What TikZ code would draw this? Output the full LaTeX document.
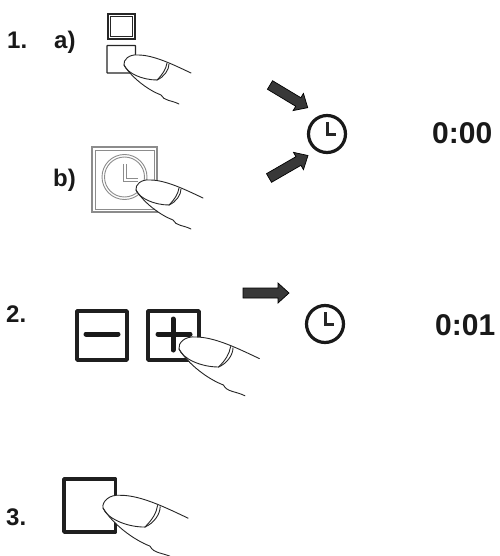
\documentclass[tikz,border=0pt]{standalone}
\usepackage{fontspec}
\setmainfont{Liberation Sans}
\tikzset{
  x=1pt,y=-1pt,
  lbl/.style={font=\fontsize{24}{24}\selectfont\bfseries,anchor=base west,inner sep=0pt,text=black!90},
  timetxt/.style={font=\fontsize{30}{30}\selectfont\bfseries,anchor=base west,inner sep=0pt,text=black!90},
  thinbox/.style={draw=black!85,line width=1.3pt,rounded corners=0.5pt},
  heavybox/.style={draw=black!88,line width=3.4pt,line join=round},
  fingerline/.style={draw=black!85,line width=0.9pt,line cap=round,line join=round},
  pics/finger/.style={code={
    \fill[white] (67,8) .. controls (50,0) and (30,-10) .. (14,-10)
      .. controls (5,-11) and (-1,-5) .. (0,0)
      .. controls (8,13) and (25,24) .. (38,30)
      -- (60,42) -- (80,20) -- cycle;
    \path[fingerline] (67,8) .. controls (50,0) and (30,-10) .. (14,-10)
      .. controls (5,-11) and (-1,-5) .. (0,0)
      .. controls (3,8) and (18,15) .. (33,15);
    \path[fingerline] (33,15) .. controls (39,9) and (42,4) .. (43,-2);
    \path[fingerline] (33,15) .. controls (40,12) and (45,5) .. (45,-1);
    \path[fingerline] (0,0) .. controls (8,13) and (24,25) .. (37,30)
      .. controls (40,36) and (47,35) .. (55,39);
  }},
  pics/blockarrow/.style={code={
    \filldraw[fill=black!78,draw=black,line width=0.7pt,line join=miter]
      (0,-5) -- (#1-11,-5) -- (#1-11,-10) -- (#1,0) -- (#1-11,10) -- (#1-11,5) -- (0,5) -- cycle;
  }},
  pics/clockicon/.style={code={
    \draw[black!90,line width=3.2pt] (0,0) circle[radius=18.5];
    \draw[black!85,line width=3pt] (0,-12) -- (0,0.5) -- (9,0.5);
  }},
}
\begin{document}
\begin{tikzpicture}
\useasboundingbox (0,0) rectangle (499,556);
\fill[white] (0,0) rectangle (499,556);
% labels
\node[lbl] (n1) at (7,49) {1.};
\node[lbl] (na) at (54,49) {a)};
\node[lbl] (nb) at (53,186) {b)};
\node[lbl] (n2) at (6,322) {2.};
\node[lbl] (n3) at (6,525) {3.};
\node[timetxt] (t0) at (432,144) {0:00};
\node[timetxt] (t1) at (435,335) {0:01};
% step 1a
\draw[black!85,line width=2.6pt] (108,14) rectangle (135,39);
\draw[black!85,line width=0.6pt] (110.5,16.5) rectangle (132.5,36.5);
\draw[thinbox] (107,45.5) rectangle (135.5,73);
\pic at (124,65) {finger};
% step 1b
\draw[black!45,line width=1.1pt] (92,147) rectangle (157,212);
\draw[black!45,line width=0.9pt] (95,150) rectangle (154,209);
\draw[black!45,line width=0.9pt] (124.5,177) circle[radius=22.5];
\draw[black!45,line width=0.9pt] (124.5,177) circle[radius=20];
\draw[black!45,line width=0.9pt] (123,164) -- (123,181) -- (138,181);
\draw[black!45,line width=0.9pt] (126,164) -- (126,178) -- (138,178);
\pic at (136,190) {finger};
% step 2
\draw[heavybox] (77,311) rectangle (127,360);
\draw[heavybox] (148,311) rectangle (199,360);
\draw[black!90,line width=5pt,line cap=round] (86,334) -- (118,334);
\draw[black!90,line width=5pt,line cap=round] (158,334) -- (190,334);
\draw[black!90,line width=5pt,line cap=round] (173,319) -- (173,350);
\pic[scale=1.2] at (179,349) {finger};
% step 3
\draw[heavybox] (64,479) rectangle (115.5,532);
\pic[scale=1.27] at (103,508) {finger};
% arrows and clocks
\pic[rotate=-31] at (270,85) {blockarrow=44};
\pic[rotate=30] at (269,178) {blockarrow=45};
\pic at (243,293) {blockarrow=46};
\pic at (327,134) {clockicon};
\pic at (325,324) {clockicon};
\end{tikzpicture}
\end{document}
